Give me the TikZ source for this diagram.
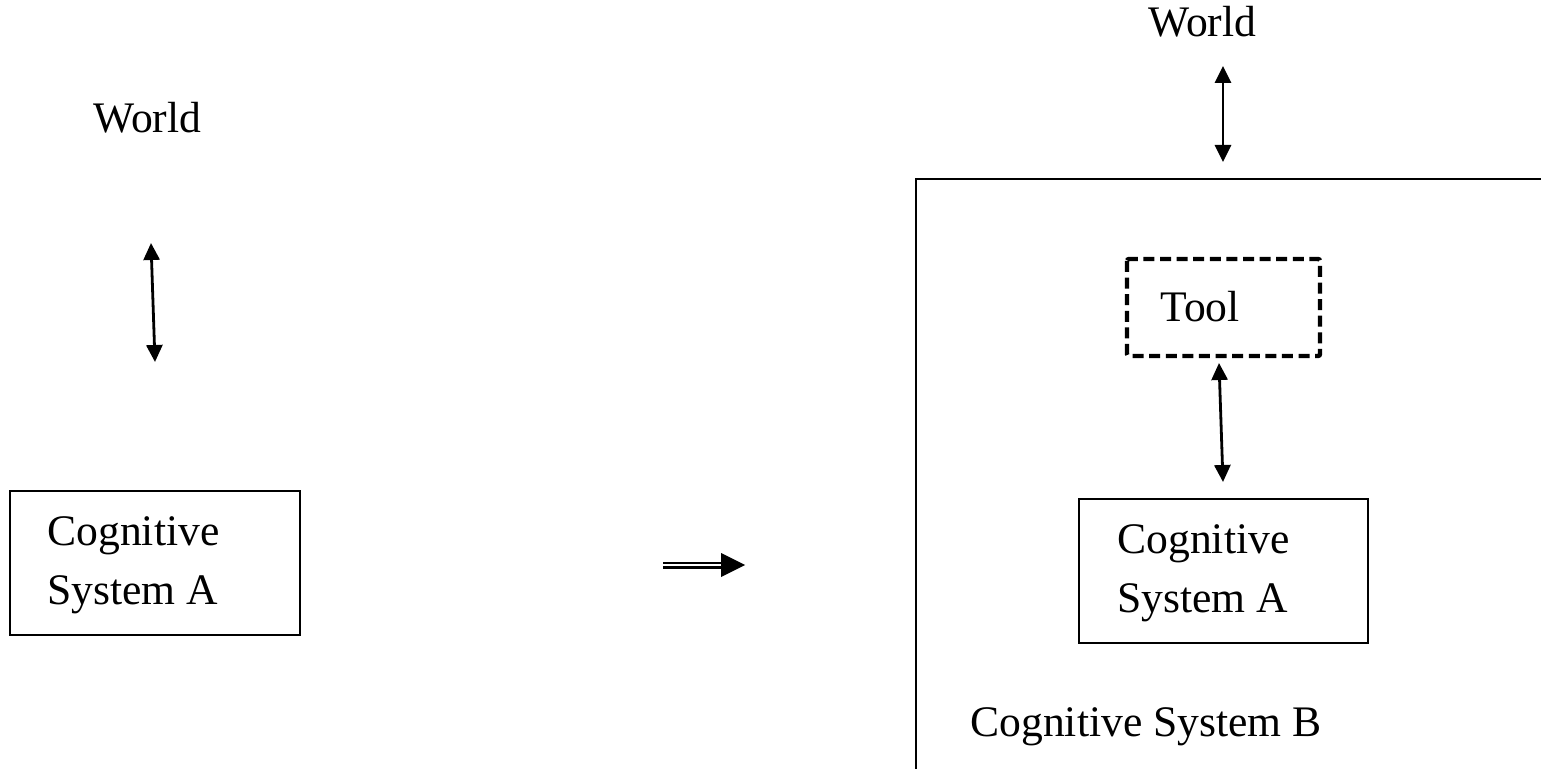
\documentclass[tikz,border=0pt]{standalone}
\usepackage{fontspec}
\setmainfont{Liberation Serif}
\usetikzlibrary{arrows.meta,positioning}
\tikzset
{
  label/.style   = {inner sep=0pt, font=\fontsize{21.8}{29.5}\selectfont, align=left},
  sysbox/.style  = {draw=black, line width=1pt},
  toolbox/.style = {draw=black, line width=2.2pt, dash pattern=on 5.5pt off 2.8pt, rounded corners=1pt},
  link/.style    = {{Triangle[length=8.5pt,width=8pt]}-{Triangle[length=8.5pt,width=8pt]}, line width=1.4pt}
}

\begin{document}
\begin{tikzpicture}[x=0.5pt,y=-0.5pt]
            \useasboundingbox (0,0) rectangle (1541,769);
            % before
            \node [label, anchor=base west] (worldL) at (93,133) {World};
            \coordinate (wLtop) at (151,243);
            \coordinate (wLbot) at (155,362);
            \draw [link] (wLtop) -- (wLbot);
            \draw [sysbox] (10,491) rectangle (300,635);
            \node [label, anchor=base west] (cogL) at (47,604) {Cognitive\\System A};
            % the move
            \coordinate (mvS) at (663,565);
            \coordinate (mvE) at (721,565);
            \coordinate (mvT) at (745,565);
            \draw [double, double distance=0.9pt, line width=1.3pt] (mvS) -- (mvE);
            \fill (mvT) -- ++(-24,-12) -- ++(0,24) -- cycle;
            % after
            \node [label, anchor=base west] (worldR) at (1148,37) {World};
            \coordinate (wRtop) at (1223,66);
            \coordinate (wRbot) at (1223,162);
            \draw [link] (wRtop) -- (wRbot);
            \draw [line width=1.3pt] (916,769) -- (916,179) -- (1541,179);
            \draw [toolbox] (1127,259) rectangle (1320,356);
            \node [label, anchor=base west] (tool) at (1160,322) {Tool};
            \coordinate (tTop) at (1219,363);
            \coordinate (tBot) at (1223,482);
            \draw [link] (tTop) -- (tBot);
            \draw [sysbox] (1079,499) rectangle (1368,643);
            \node [label, anchor=base west] (cogR) at (1117,612) {Cognitive\\System A};
            \node [label, anchor=base west] (cogB) at (970,736) {Cognitive System B};
\end{tikzpicture}
\end{document}
